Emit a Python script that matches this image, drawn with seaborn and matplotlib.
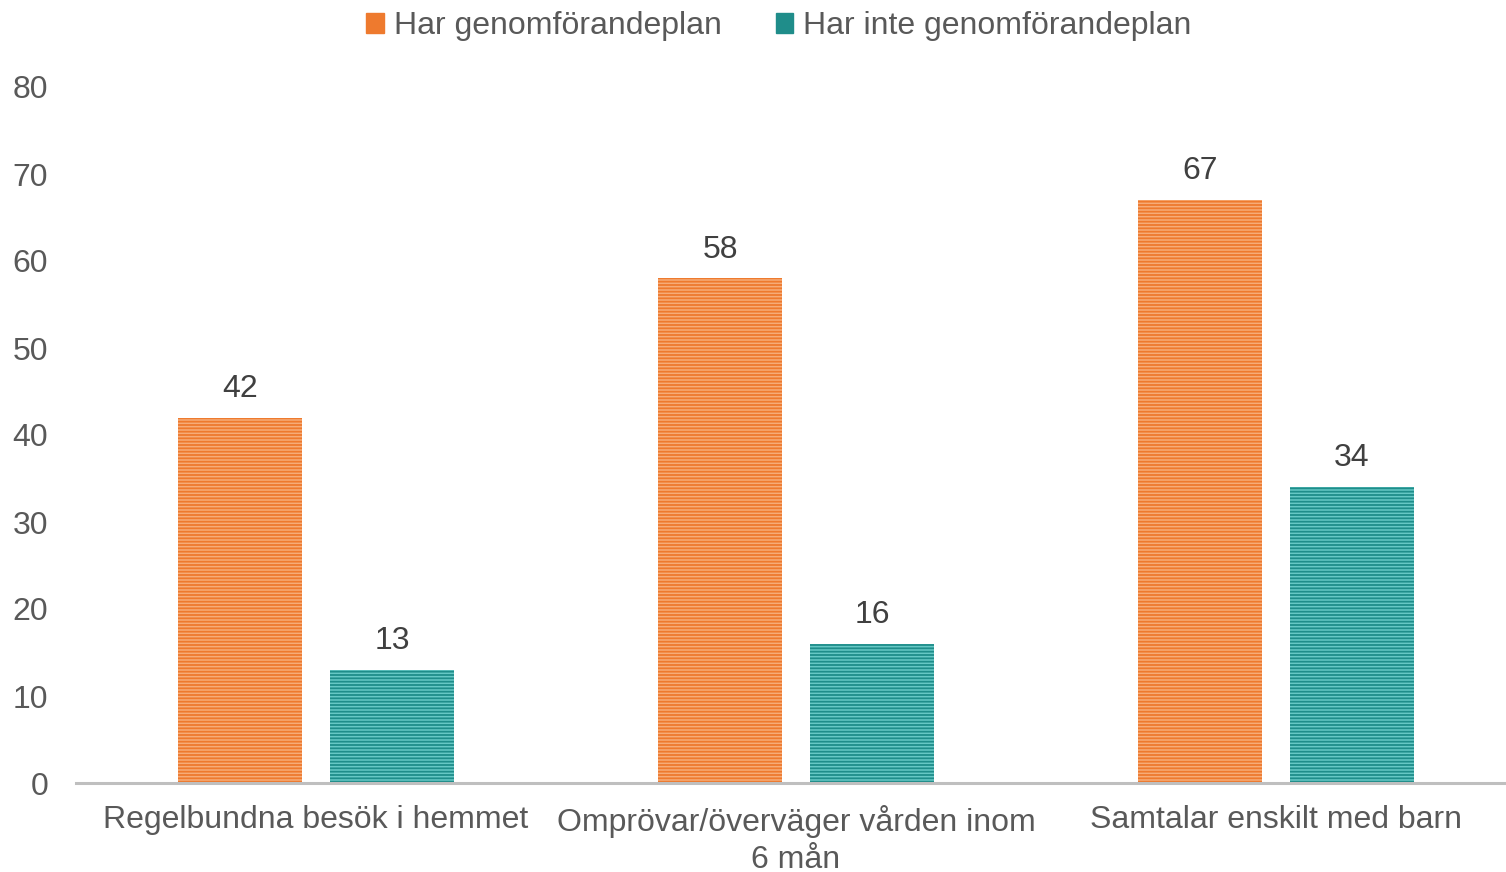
import matplotlib
matplotlib.use("Agg")
import matplotlib.pyplot as plt
import pandas as pd
import seaborn as sns

# data
categories = ["Regelbundna besök i hemmet", "Omprövar/överväger vården inom\n6 mån", "Samtalar enskilt med barn"]
series = ["Har genomförandeplan", "Har inte genomförandeplan"]
har_plan = [42, 58, 67]
har_inte_plan = [13, 16, 34]

face_colors = ["#F7AC78", "#66C8C5"]
stripe_colors = ["#EE7A2E", "#1F8D8A"]

df = pd.DataFrame({
    "kategori": categories * 2,
    "grupp": [series[0]] * 3 + [series[1]] * 3,
    "varde": har_plan + har_inte_plan,
})

sns.set_style("white")
plt.rcParams["font.family"] = ["Liberation Sans", "DejaVu Sans"]
plt.rcParams["hatch.linewidth"] = 1.3

fig = plt.figure(figsize=(15.06, 8.72), dpi=100)
ax = fig.add_axes([76 / 1506, 1 - 783 / 872, 1430 / 1506, (783 - 87) / 872])

sns.barplot(data=df, x="kategori", y="varde", hue="grupp", hue_order=series,
            palette=face_colors, width=0.633, gap=0.185, ax=ax, legend=True)

for cont, fc, sc in zip(ax.containers, face_colors, stripe_colors):
    for bar in cont:
        bar.set_facecolor(fc)
        bar.set_edgecolor(sc)
        bar.set_hatch("-----")
        bar.set_linewidth(0)
    ax.bar_label(cont, padding=10, fontsize=23, color="#404040")

ax.set_ylim(0, 80)
ax.set_xlim(-0.5, -0.5 + 1430 / 480)
ax.set_yticks(range(0, 81, 10))
ax.set_xlabel("")
ax.set_ylabel("")
ax.tick_params(axis="both", length=0, labelsize=23, labelcolor="#595959")
ax.tick_params(axis="x", pad=16)
ax.tick_params(axis="y", pad=20)
for lab in ax.get_xticklabels():
    lab.set_linespacing(1.28)
for s in ["left", "right", "top"]:
    ax.spines[s].set_visible(False)
ax.spines["bottom"].set_color("#BFBFBF")
ax.spines["bottom"].set_linewidth(2.2)

handles, labels = ax.get_legend_handles_labels()
for h, sc in zip(handles, stripe_colors):
    h.set_facecolor(sc)
    h.set_edgecolor(sc)
    h.set_hatch(None)
ax.legend(handles, labels, loc="upper center", bbox_to_anchor=(0.4915, 1.15),
          ncol=2, frameon=False, fontsize=23, labelcolor="#595959",
          handlelength=0.55, handleheight=0.55, handletextpad=0.3, columnspacing=1.7)

fig.savefig("out.png", dpi=100)
